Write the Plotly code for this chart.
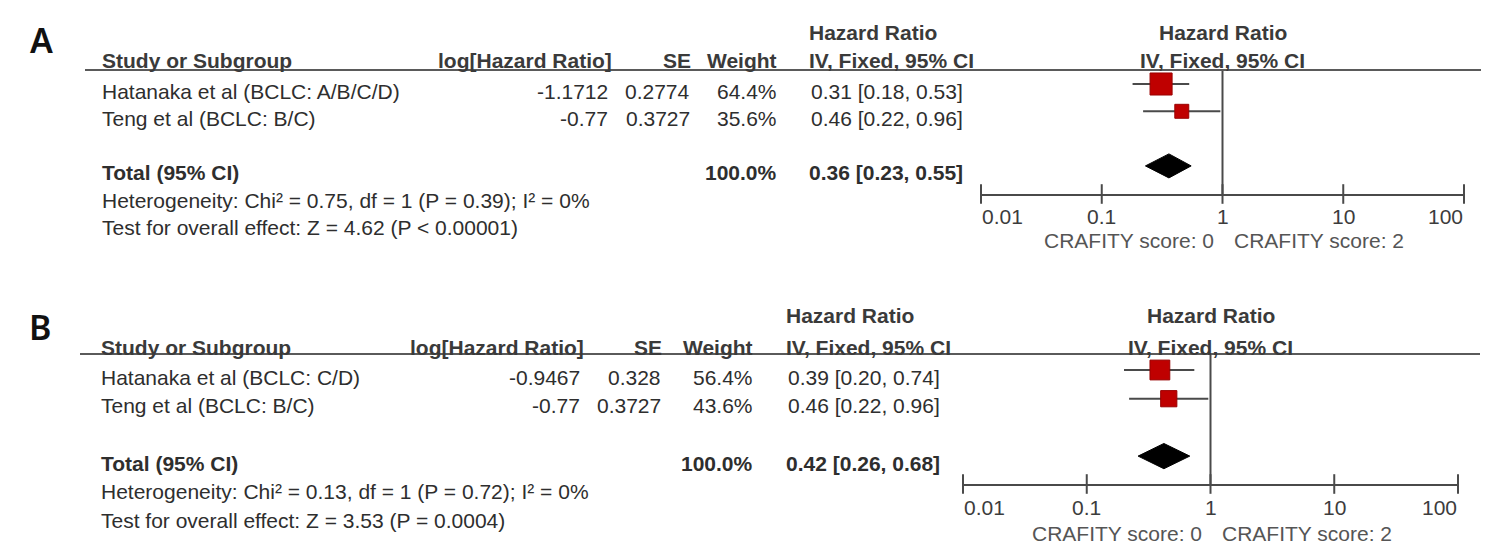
import math
import plotly.graph_objects as go

# the page body keeps its 8px default margin, so the figure is drawn 8px in
OFF = 8
W, H = 1489 - OFF, 553 - OFF
FONT = "Liberation Sans, Arial, sans-serif"
TXT = "#2e2e2e"
GREY = "#4a4a4a"
RED = "#bf0000"

# ---------------------------------------------------------------
# data
# ---------------------------------------------------------------
tick_vals = [0.01, 0.1, 1, 10, 100]
tick_text = ["0.01", "0.1", "1", "10", "100"]
side_labels = ["CRAFITY score: 0", "CRAFITY score: 2"]

a_study = ["Hatanaka et al (BCLC: A/B/C/D)", "Teng et al (BCLC: B/C)"]
a_loghr = ["-1.1712", "-0.77"]
a_se = ["0.2774", "0.3727"]
a_weight = [64.4, 35.6]
a_hr = [0.31, 0.46]
a_lo = [0.18, 0.22]
a_hi = [0.53, 0.96]
a_total = [0.36, 0.23, 0.55]
a_het = "Heterogeneity: Chi² = 0.75, df = 1 (P = 0.39); I² = 0%"
a_test = "Test for overall effect: Z = 4.62 (P < 0.00001)"

b_study = ["Hatanaka et al (BCLC: C/D)", "Teng et al (BCLC: B/C)"]
b_loghr = ["-0.9467", "-0.77"]
b_se = ["0.328", "0.3727"]
b_weight = [56.4, 43.6]
b_hr = [0.39, 0.46]
b_lo = [0.20, 0.22]
b_hi = [0.74, 0.96]
b_total = [0.42, 0.26, 0.68]
b_het = "Heterogeneity: Chi² = 0.13, df = 1 (P = 0.72); I² = 0%"
b_test = "Test for overall effect: Z = 3.53 (P = 0.0004)"


def px(x):
    return (x - OFF) / W


def py(y):
    return 1 - (y - OFF) / H


# geometry of each panel (pixels of the 1489x553 page)
panels = [
    dict(tag="A", tag_xy=(41, 40), xa="x", ya="y",
         study=a_study, loghr=a_loghr, se=a_se, weight=a_weight,
         hr=a_hr, lo=a_lo, hi=a_hi, total=a_total, het=a_het, test=a_test,
         line_x=(85, 1484), hdr_y=70, axis_y=194, row0=84, step=27.3,
         ax_x=(981, 1464), col_study=101, col_log=613, col_se=692,
         col_w=778, col_ci=808, hdr1_y=32, hdr2_y=60, tick_y=216, side_y=240),
    dict(tag="B", tag_xy=(40, 327), xa="x2", ya="y2",
         study=b_study, loghr=b_loghr, se=b_se, weight=b_weight,
         hr=b_hr, lo=b_lo, hi=b_hi, total=b_total, het=b_het, test=b_test,
         line_x=(80, 1480), hdr_y=354, axis_y=484, row0=370, step=28.7,
         ax_x=(963, 1458), col_study=100, col_log=585, col_se=663,
         col_w=754, col_ci=785, hdr1_y=315, hdr2_y=347, tick_y=507, side_y=533),
]

fig = go.Figure()
ann = []
shapes = []
layout_axes = {}


def t(x, y, text, xanchor="left", bold=False, size=21, color=TXT,
      xref="paper", yref="paper", yshift=0, xshift=0):
    ann.append(dict(x=x, y=y, text=f"<b>{text}</b>" if bold else text,
                    xref=xref, yref=yref, xanchor=xanchor, yanchor="middle",
                    xshift=xshift, yshift=yshift, showarrow=False, borderpad=0,
                    font=dict(family=FONT, size=size, color=color)))


for p in panels:
    xa, ya = p["xa"], p["ya"]
    xname = "xaxis" if xa == "x" else "xaxis" + xa[1:]
    yname = "yaxis" if ya == "y" else "yaxis" + ya[1:]
    top = (p["hdr_y"] - p["row0"]) / p["step"]
    bot = (p["axis_y"] - p["row0"]) / p["step"]

    layout_axes[xname] = dict(
        type="log", range=[-2, 2], domain=[px(p["ax_x"][0]), px(p["ax_x"][1])],
        anchor=ya, showgrid=False, zeroline=False, showline=True,
        linecolor=GREY, linewidth=2, ticks="", showticklabels=False,
    )
    layout_axes[yname] = dict(
        range=[bot, top], domain=[py(p["axis_y"]), py(p["hdr_y"])],
        anchor=xa, visible=False,
    )

    rows = list(range(len(p["study"])))
    total_row = 3

    # null line at HR = 1
    fig.add_trace(go.Scatter(
        x=[1, 1], y=[top, bot], mode="lines", xaxis=xa, yaxis=ya,
        line=dict(color=GREY, width=2), hoverinfo="skip", showlegend=False,
        cliponaxis=False,
    ))
    # axis ticks (crossing the axis line)
    fig.add_trace(go.Scatter(
        x=tick_vals, y=[bot] * len(tick_vals), mode="markers", xaxis=xa, yaxis=ya,
        marker=dict(symbol="line-ns", size=14, line=dict(color=GREY, width=2)),
        hoverinfo="skip", showlegend=False, cliponaxis=False,
    ))
    # confidence intervals
    ci_x, ci_y = [], []
    for r, lo, hi in zip(rows, p["lo"], p["hi"]):
        ci_x += [lo, hi, None]
        ci_y += [r, r, None]
    fig.add_trace(go.Scatter(
        x=ci_x, y=ci_y, mode="lines", xaxis=xa, yaxis=ya,
        line=dict(color=GREY, width=2), hoverinfo="skip", showlegend=False,
    ))
    # weighted squares
    fig.add_trace(go.Scatter(
        x=p["hr"], y=rows, mode="markers", xaxis=xa, yaxis=ya,
        marker=dict(symbol="square", color=RED, opacity=1,
                    size=[4 + 0.28 * w for w in p["weight"]],
                    line=dict(color="#9a0000", width=1)),
        hoverinfo="skip", showlegend=False,
    ))
    # pooled diamond
    est, lo, hi = p["total"]
    hh = 0.44
    fig.add_trace(go.Scatter(
        x=[lo, est, hi, est, lo],
        y=[total_row, total_row - hh, total_row, total_row + hh, total_row],
        mode="lines", fill="toself", fillcolor="black", xaxis=xa, yaxis=ya,
        line=dict(color="black", width=1), hoverinfo="skip", showlegend=False,
    ))

    # header line
    shapes.append(dict(type="line", xref="paper", yref="paper",
                       x0=px(p["line_x"][0]), x1=px(p["line_x"][1]),
                       y0=py(p["hdr_y"]), y1=py(p["hdr_y"]),
                       line=dict(color="#5a5a5a", width=2)))

    # panel letter
    ann.append(dict(x=px(p["tag_xy"][0]), y=py(p["tag_xy"][1]), text=p["tag"],
                    xref="paper", yref="paper", xanchor="center", yanchor="middle",
                    showarrow=False,
                    font=dict(family="Noto Sans, sans-serif", size=34, color="#111",
                              weight=600)))

    # headers
    hc = "#3a3a3a"
    t(px(p["col_study"]), py(p["hdr2_y"]), "Study or Subgroup", bold=True, color=hc)
    t(px(p["col_log"]), py(p["hdr2_y"]), "log[Hazard Ratio]", "right", True, color=hc)
    t(px(p["col_se"]), py(p["hdr2_y"]), "SE", "right", True, color=hc)
    t(px(p["col_w"]), py(p["hdr2_y"]), "Weight", "right", True, color=hc)
    t(px(p["col_ci"]), py(p["hdr1_y"]), "Hazard Ratio", bold=True, color=hc)
    t(px(p["col_ci"]), py(p["hdr2_y"]), "IV, Fixed, 95% CI", bold=True, color=hc)
    t(0, py(p["hdr1_y"]), "Hazard Ratio", "center", True, color=hc, xref=xa)
    t(0, py(p["hdr2_y"]), "IV, Fixed, 95% CI", "center", True, color=hc, xref=xa)

    # study rows
    for r, s, lg, se, w, hr, lo_, hi_ in zip(rows, p["study"], p["loghr"], p["se"],
                                            p["weight"], p["hr"], p["lo"], p["hi"]):
        t(px(p["col_study"]), r, s, yref=ya, yshift=-7)
        t(px(p["col_log"] - 4), r, lg, "right", yref=ya, yshift=-7)
        t(px(p["col_se"] - 1), r, se, "right", yref=ya, yshift=-7)
        t(px(p["col_w"]), r, f"{w:.1f}%", "right", yref=ya, yshift=-7)
        t(px(p["col_ci"] + 2), r, f"{hr:.2f} [{lo_:.2f}, {hi_:.2f}]", yref=ya, yshift=-7)

    t(px(p["col_study"]), total_row, "Total (95% CI)", bold=True, yref=ya, yshift=-7)
    t(px(p["col_w"]), total_row, f"{sum(p['weight']):.1f}%", "right", True, yref=ya, yshift=-7)
    t(px(p["col_ci"]), total_row, f"{est:.2f} [{lo:.2f}, {hi:.2f}]", bold=True,
      yref=ya, yshift=-7)

    # footnotes sit on rows 4 and 5, below the plotting range
    for r, line in ((4, p["het"]), (5, p["test"])):
        t(px(p["col_study"]), py(p["row0"] + p["step"] * r + 7), line)

    # tick labels
    for k, (v, lab) in enumerate(zip(tick_vals, tick_text)):
        anchor = "left" if k == 0 else ("right" if k == len(tick_vals) - 1 else "center")
        t(math.log10(v), py(p["tick_y"]), lab, anchor, color="#3c3c3c", xref=xa)
    t(0, py(p["side_y"]), side_labels[0], "right", color="#555555", xref=xa, xshift=-8)
    t(0, py(p["side_y"]), side_labels[1], "left", color="#555555", xref=xa, xshift=10)

fig.update_layout(
    width=W, height=H,
    margin=dict(l=0, r=0, t=0, b=0),
    paper_bgcolor="white", plot_bgcolor="rgba(0,0,0,0)",
    showlegend=False,
    annotations=ann, shapes=shapes,
    **layout_axes,
)

fig.write_html("out.html")
